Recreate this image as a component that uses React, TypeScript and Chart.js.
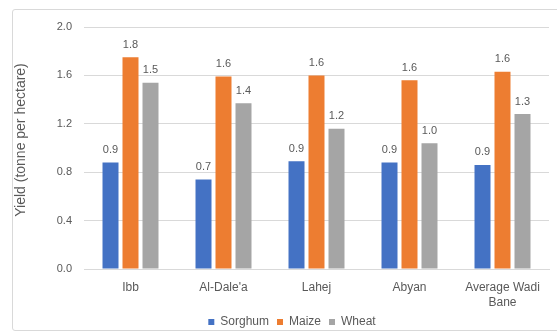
import React, { useEffect, useRef } from "react";
import { Chart, registerables } from "chart.js";

Chart.register(...registerables);

const regions = ["Ibb", "Al-Dale'a", "Lahej", "Abyan", ["Average Wadi", "Bane"]];
const sorghum = [0.88, 0.74, 0.89, 0.88, 0.86];
const maize = [1.75, 1.59, 1.6, 1.56, 1.63];
const wheat = [1.54, 1.37, 1.16, 1.04, 1.28];
const yTicks = [0, 0.4, 0.8, 1.2, 1.6, 2.0];
const yTitle = "Yield (tonne per hectare)";

const FONT = "'Liberation Sans', Arial, sans-serif";
const TEXT = "#595959";
const GRID = "#d9d9d9";

// Writes each bar's value, one decimal, just above the bar
const valueLabels = {
  id: "valueLabels",
  afterDatasetsDraw(chart: any) {
    const { ctx } = chart;
    ctx.save();
    ctx.font = `11px ${FONT}`;
    ctx.fillStyle = TEXT;
    ctx.textAlign = "center";
    ctx.textBaseline = "bottom";
    chart.data.datasets.forEach((ds: any, i: number) => {
      const meta = chart.getDatasetMeta(i);
      meta.data.forEach((bar: any, j: number) => {
        ctx.fillText(Number(ds.data[j]).toFixed(1), bar.x, bar.y - 7);
      });
    });
    ctx.restore();
  },
};

// Rotated value-axis title at the left edge
const axisTitle = {
  id: "axisTitle",
  afterDraw(chart: any) {
    const { ctx } = chart;
    ctx.save();
    ctx.translate(8, 130);
    ctx.rotate(-Math.PI / 2);
    ctx.font = `14px ${FONT}`;
    ctx.fillStyle = TEXT;
    ctx.textAlign = "center";
    ctx.textBaseline = "middle";
    ctx.fillText(yTitle, 0, 0);
    ctx.restore();
  },
};

export default function App() {
  const ref = useRef<HTMLCanvasElement>(null);

  useEffect(() => {
    if (!ref.current) return;
    const chart = new Chart(ref.current, {
      type: "bar",
      data: {
        labels: regions as any,
        datasets: [
          { label: "Sorghum", data: sorghum, backgroundColor: "#4472C4" },
          { label: "Maize", data: maize, backgroundColor: "#ED7D31" },
          { label: "Wheat", data: wheat, backgroundColor: "#A5A5A5" },
        ],
      },
      options: {
        responsive: false,
        animation: false,
        layout: { padding: { top: 17, right: 0, left: 0, bottom: 0 } },
        datasets: {
          bar: { categoryPercentage: 0.645, barPercentage: 0.8 },
        },
        scales: {
          x: {
            grid: { display: false },
            border: { display: true, color: GRID },
            ticks: {
              color: TEXT,
              font: { family: FONT, size: 12, lineHeight: 1.25 },
              padding: 3,
              maxRotation: 0,
            },
            afterFit(scale: any) {
              scale.height = 39;
            },
          },
          y: {
            min: 0,
            max: 2,
            afterBuildTicks(scale: any) {
              scale.ticks = yTicks.map((v) => ({ value: v }));
            },
            grid: { color: GRID, drawTicks: false },
            border: { display: false },
            ticks: {
              color: TEXT,
              font: { family: FONT, size: 11 },
              padding: 12,
              callback: (v: any) => Number(v).toFixed(1),
            },
            afterFit(scale: any) {
              scale.width = 71;
              scale.paddingTop = 0;
              scale.paddingBottom = 0;
            },
          },
          // empty right-hand margin so the legend stays centred on the whole chart
          spacer: {
            type: "linear",
            position: "right",
            grid: { display: false, drawTicks: false },
            border: { display: false },
            ticks: { display: false },
            afterFit(scale: any) {
              scale.width = 22;
              scale.paddingTop = 0;
              scale.paddingBottom = 0;
            },
          },
        },
        plugins: {
          legend: {
            position: "bottom",
            labels: {
              color: TEXT,
              font: { family: FONT, size: 12 },
              boxWidth: 6,
              boxHeight: 6,
              padding: 8,
            },
          },
          tooltip: { enabled: false },
        },
      },
      plugins: [valueLabels, axisTitle],
    });
    return () => chart.destroy();
  }, []);

  return (
    <div style={{ position: "absolute", left: 0, top: 0, width: 557, height: 334, overflow: "hidden", background: "#fff" }}>
      <div
        style={{
          position: "absolute",
          left: 12,
          top: 9,
          width: 560,
          height: 322,
          border: `1px solid ${GRID}`,
          borderRadius: 3,
          boxSizing: "border-box",
          overflow: "hidden",
        }}
      >
        <canvas ref={ref} width={558} height={328} style={{ display: "block" }} />
      </div>
    </div>
  );
}
